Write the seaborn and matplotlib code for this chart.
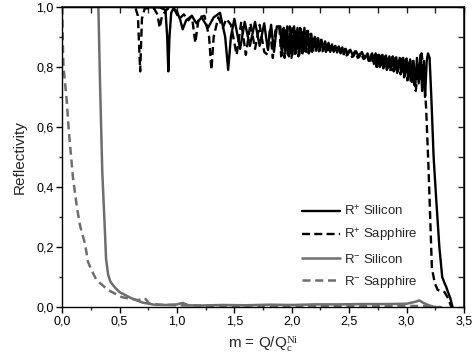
import numpy as np
import pandas as pd
import matplotlib
matplotlib.use("Agg")
import matplotlib.pyplot as plt
from matplotlib.ticker import MultipleLocator, FuncFormatter
import seaborn as sns

# ---------------- data ----------------
series_labels = [r"R$^{\mathsf{+}}$ Silicon", r"R$^{\mathsf{+}}$ Sapphire",
                 r"R$^{\mathsf{-}}$ Silicon", r"R$^{\mathsf{-}}$ Sapphire"]

# R+ Silicon (solid black)
rp_si_m = [0.0, 0.5, 0.85, 0.90, 0.915, 0.925, 0.935, 0.95, 0.97, 1.00, 1.03, 1.05, 1.08, 1.13, 1.17,
           1.215, 1.27, 1.32, 1.375, 1.42, 1.446, 1.47, 1.50, 1.55, 1.59, 1.635, 1.68, 1.72, 1.76, 1.79,
           1.82, 1.845, 1.87,
           1.900, 1.915, 1.930, 1.945, 1.960, 1.975, 1.990, 2.005, 2.020, 2.035, 2.050, 2.065, 2.080, 2.095,
           2.110, 2.125, 2.140, 2.155, 2.170, 2.185, 2.200, 2.215, 2.230, 2.245, 2.260, 2.275, 2.290, 2.305,
           2.320, 2.335, 2.350, 2.365, 2.380, 2.395, 2.410, 2.425, 2.440, 2.455, 2.470, 2.485, 2.510, 2.535,
           2.560, 2.585, 2.610, 2.635, 2.660, 2.680, 2.700, 2.715, 2.730, 2.745, 2.760, 2.775, 2.790, 2.805,
           2.820, 2.835, 2.850, 2.865, 2.880, 2.895, 2.910, 2.925, 2.940, 2.955, 2.970, 2.985, 3.000, 3.015,
           3.030, 3.045, 3.060, 3.075, 3.090, 3.105, 3.120, 3.135, 3.150, 3.160, 3.175, 3.186, 3.200, 3.215,
           3.235, 3.258, 3.285, 3.310, 3.330, 3.345, 3.360, 3.380, 3.400]
rp_si_r = [1.0, 1.0, 0.998, 0.99, 0.90, 0.785, 0.90, 0.98, 0.995, 0.985, 0.955, 0.925, 0.955, 0.97, 0.945,
           0.965, 0.93, 0.965, 0.98, 0.90, 0.79, 0.90, 0.96, 0.86, 0.95, 0.87, 0.95, 0.87, 0.945, 0.86,
           0.94, 0.85, 0.935,
           0.935, 0.84, 0.93, 0.845, 0.935, 0.835, 0.93, 0.84, 0.935, 0.845, 0.93, 0.84, 0.925, 0.845,
           0.93, 0.85, 0.92, 0.85, 0.91, 0.855, 0.90, 0.855, 0.895, 0.855, 0.89, 0.855, 0.885, 0.855,
           0.88, 0.85, 0.875, 0.85, 0.87, 0.848, 0.868, 0.845, 0.865, 0.842, 0.86, 0.84, 0.857, 0.835,
           0.852, 0.832, 0.85, 0.828, 0.845, 0.82, 0.845, 0.81, 0.845, 0.80, 0.84, 0.805, 0.84, 0.80,
           0.838, 0.795, 0.835, 0.79, 0.835, 0.79, 0.832, 0.785, 0.83, 0.78, 0.83, 0.77, 0.828, 0.76,
           0.825, 0.75, 0.82, 0.735, 0.83, 0.745, 0.84, 0.72, 0.82, 0.70, 0.82, 0.845, 0.83, 0.70,
           0.50, 0.357, 0.20, 0.10, 0.08, 0.067, 0.05, 0.03, 0.0]

# R+ Sapphire (dashed black)
rp_sa_m = [0.0, 0.6, 0.64, 0.66, 0.68, 0.695, 0.72, 0.80, 0.83, 0.85, 0.87, 0.92, 0.98, 1.02, 1.06,
           1.10, 1.13, 1.16, 1.19, 1.24, 1.28, 1.30, 1.32, 1.36, 1.40, 1.43, 1.47, 1.52, 1.56, 1.60,
           1.64, 1.68, 1.72, 1.76, 1.79, 1.81, 1.835, 1.86,
           1.8925, 1.9075, 1.9225, 1.9375, 1.9525, 1.9675, 1.9825, 1.9975, 2.0125, 2.0275, 2.0425, 2.0575,
           2.0725, 2.0875, 2.1025, 2.1175, 2.1325, 2.1475, 2.1625, 2.1775, 2.1925, 2.2075, 2.2225, 2.2375,
           2.2525, 2.2675, 2.2825, 2.2975, 2.3125, 2.3275, 2.3425, 2.3575, 2.3725, 2.3875, 2.4025, 2.4175,
           2.4325, 2.4475, 2.4625, 2.4775, 2.5000, 2.5250, 2.5500, 2.5750, 2.6000, 2.6250, 2.6500, 2.6700,
           2.6925, 2.7075, 2.7225, 2.7375, 2.7525, 2.7675, 2.7825, 2.7975, 2.8125, 2.8275, 2.8425, 2.8575,
           2.8725, 2.8875, 2.9025, 2.9175, 2.9325, 2.9475, 2.9625, 2.9775, 2.9925, 3.0075, 3.0225, 3.0375,
           3.0525, 3.0675, 3.080, 3.100, 3.115, 3.130, 3.145, 3.157, 3.170, 3.190, 3.205, 3.220, 3.245,
           3.270, 3.330, 3.360, 3.390]
rp_sa_r = [1.0, 1.0, 0.995, 0.97, 0.785, 0.96, 0.995, 0.995, 0.975, 0.93, 0.97, 0.995, 0.99, 0.96, 0.975,
           0.955, 0.97, 0.88, 0.965, 0.97, 0.90, 0.79, 0.90, 0.965, 0.93, 0.96, 0.94, 0.84, 0.95, 0.84,
           0.945, 0.86, 0.94, 0.85, 0.84, 0.93, 0.83, 0.93,
           0.93, 0.835, 0.935, 0.83, 0.93, 0.84, 0.935, 0.83, 0.93, 0.84, 0.93, 0.835,
           0.93, 0.84, 0.925, 0.845, 0.92, 0.845, 0.91, 0.85, 0.90, 0.85, 0.895, 0.852,
           0.89, 0.852, 0.88, 0.85, 0.875, 0.85, 0.87, 0.848, 0.868, 0.845, 0.865, 0.843,
           0.862, 0.84, 0.86, 0.838, 0.855, 0.833, 0.852, 0.83, 0.848, 0.826, 0.845, 0.82,
           0.842, 0.81, 0.84, 0.80, 0.84, 0.80, 0.838, 0.795, 0.835, 0.79, 0.835, 0.785,
           0.832, 0.785, 0.83, 0.78, 0.83, 0.775, 0.828, 0.765, 0.825, 0.755, 0.822, 0.745,
           0.82, 0.73, 0.72, 0.80, 0.76, 0.845, 0.80, 0.745, 0.66, 0.47, 0.30, 0.13, 0.08,
           0.057, 0.05, 0.03, 0.0]

# R- Silicon (solid grey)
rm_si_m = [0.0, 0.316, 0.33, 0.35, 0.372, 0.383, 0.40, 0.42, 0.46, 0.50, 0.60, 0.70, 0.80, 0.90, 1.00,
           1.05, 1.10, 1.20, 1.40, 1.60, 1.80, 2.00, 2.20, 2.40, 2.60, 2.80, 3.00, 3.08, 3.11, 3.15,
           3.20, 3.25, 3.30]
rm_si_r = [1.0, 1.0, 0.75, 0.45, 0.26, 0.16, 0.11, 0.085, 0.065, 0.05, 0.03, 0.015, 0.008, 0.007, 0.009,
           0.014, 0.006, 0.005, 0.007, 0.006, 0.008, 0.007, 0.009, 0.009, 0.010, 0.010, 0.011, 0.018, 0.022, 0.013,
           0.005, 0.0, 0.0]

# R- Sapphire (dashed grey)
rm_sa_m = [0.0, 0.003, 0.008, 0.012, 0.04, 0.06, 0.095, 0.13, 0.157, 0.20, 0.226, 0.26, 0.30, 0.40, 0.52,
           0.66, 0.72, 0.76, 0.85, 1.00, 1.50, 2.00, 2.50, 3.00, 3.20, 3.25]
rm_sa_r = [1.0, 0.95, 0.85, 0.80, 0.69, 0.58, 0.43, 0.33, 0.27, 0.21, 0.15, 0.12, 0.09, 0.057, 0.033,
           0.023, 0.03, 0.012, 0.008, 0.006, 0.004, 0.004, 0.004, 0.004, 0.003, 0.0]

x_ticks = [0.0, 0.5, 1.0, 1.5, 2.0, 2.5, 3.0, 3.5]
y_ticks = [0.0, 0.2, 0.4, 0.6, 0.8, 1.0]

# ---------------- style ----------------
sns.set_theme(style="ticks")
plt.rcParams["font.family"] = ["Liberation Sans", "DejaVu Sans"]
plt.rcParams["mathtext.fontset"] = "custom"
plt.rcParams["mathtext.rm"] = "Liberation Serif"
plt.rcParams["mathtext.it"] = "Liberation Serif:italic"
plt.rcParams["mathtext.bf"] = "Liberation Serif:bold"
plt.rcParams["mathtext.sf"] = "Liberation Sans"

fig = plt.figure(figsize=(4.74, 3.60), dpi=100)
ax = fig.add_axes([0.131, 0.147, 0.848, 0.834])

black = "#000000"
grey = "#6e6e6e"

frames = [
    (pd.DataFrame({"m": rp_si_m, "R": rp_si_r}), black, 1.7, None),
    (pd.DataFrame({"m": rp_sa_m, "R": rp_sa_r}), black, 1.7, (3.4, 1.8)),
    (pd.DataFrame({"m": rm_si_m, "R": rm_si_r}), grey, 1.8, None),
    (pd.DataFrame({"m": rm_sa_m, "R": rm_sa_r}), grey, 1.8, (3.2, 1.9)),
]

for (df, col, lw, dash), lab in zip(frames, series_labels):
    sns.lineplot(data=df, x="m", y="R", ax=ax, color=col, linewidth=lw,
                 sort=False, estimator=None, label=lab)
    if dash is not None:
        ax.lines[-1].set_dashes(dash)

ax.set_xlim(0, 3.5)
ax.set_ylim(0, 1.0)
ax.set_xticks(x_ticks)
ax.set_yticks(y_ticks)
ax.xaxis.set_minor_locator(MultipleLocator(0.25))
ax.yaxis.set_minor_locator(MultipleLocator(0.1))
fmt = FuncFormatter(lambda v, p: f"{v:.1f}".replace(".", ","))
ax.xaxis.set_major_formatter(fmt)
ax.yaxis.set_major_formatter(fmt)

for s in ax.spines.values():
    s.set_visible(True)
    s.set_color("black")
    s.set_linewidth(1.0)

ax.tick_params(axis="both", which="major", direction="out", length=4, width=1.0,
               labelsize=9, colors="black", pad=2)
ax.tick_params(axis="both", which="minor", direction="out", length=2, width=1.0)
# mirrored ticks on top / right, pointing inward
axt = ax.secondary_xaxis("top")
axt.set_xticks([0, 0.25, 0.5, 0.75, 1.0, 1.25, 1.5, 1.75, 2.0, 2.25, 2.5, 2.75, 3.0, 3.25, 3.5])
axt.tick_params(direction="in", length=4, width=1.0, labeltop=False)
axr = ax.secondary_yaxis("right")
axr.set_yticks([0.0, 0.1, 0.2, 0.3, 0.4, 0.5, 0.6, 0.7, 0.8, 0.9, 1.0])
axr.tick_params(direction="in", length=4, width=1.0, labelright=False)

ax.set_xlabel(r"m = Q/Q$_{\mathrm{c}}^{\mathrm{Ni}}$", fontsize=11, labelpad=5)
ax.set_ylabel("Reflectivity", fontsize=11, labelpad=7)

leg = ax.legend(loc="upper left", bbox_to_anchor=(0.597, 0.342), frameon=False,
                fontsize=9.5, handlelength=2.9, handletextpad=0.3, labelspacing=0.62,
                borderpad=0, borderaxespad=0)

fig.savefig("out.png", dpi=100)
